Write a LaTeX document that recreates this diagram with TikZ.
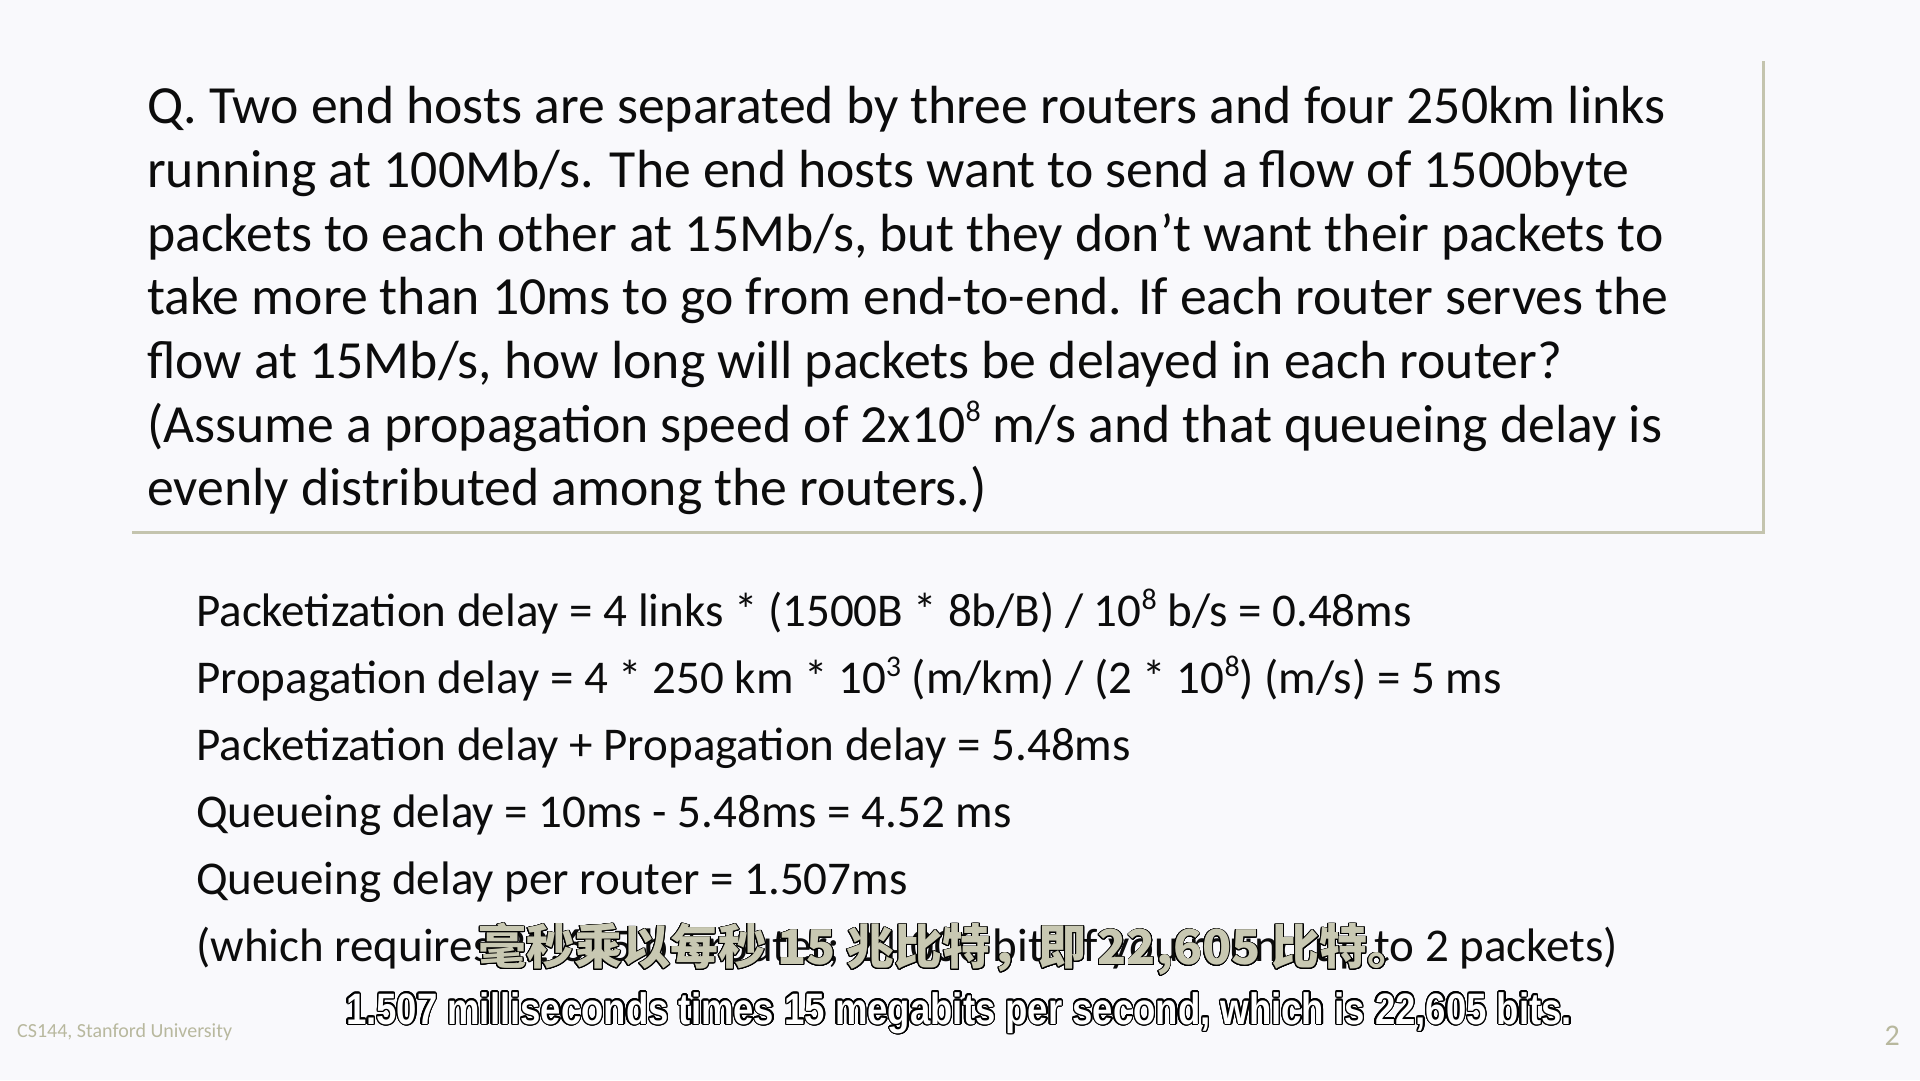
\documentclass[tikz,border=0pt]{standalone}
\usepackage{fontspec}
\usepackage{contour}
\setmainfont{Carlito}
\newfontfamily\cjkfont{Noto Sans CJK SC}
\newfontfamily\subfont[FakeStretch=0.83]{Liberation Sans}
\definecolor{bg}{RGB}{249,249,252}
\definecolor{ink}{RGB}{12,12,12}
\definecolor{shade}{RGB}{196,196,174}
\definecolor{foot}{RGB}{184,184,158}
\definecolor{subfill}{RGB}{200,200,178}
\contournumber{24}
\tikzset{
  qline/.style={anchor=base west, inner sep=0pt, text=ink, font=\fontsize{53.7}{60}\selectfont},
  aline/.style={anchor=base west, inner sep=0pt, text=ink, font=\fontsize{47}{54}\selectfont},
  footer/.style={inner sep=0pt, text=foot},
  boxshadow/.style={draw=shade, line width=3pt},
  zhsub/.style={inner sep=0pt, font=\cjkfont\bfseries\fontsize{48}{52}\selectfont},
  ensub/.style={inner sep=0pt, anchor=base, font=\subfont\bfseries\fontsize{44}{48}\selectfont}
}
\newcommand{\sups}[1]{\raisebox{0.38em}{\fontsize{30}{30}\selectfont #1}}
\begin{document}
\begin{tikzpicture}[x=1pt,y=1pt]
\fill[bg] (0,0) rectangle (1920,1080);
\useasboundingbox (0,0) rectangle (1920,1080);
% question box shadow
\coordinate (sbl) at (132,547);
\coordinate (sbr) at (1763,547);
\coordinate (str) at (1763,1019);
\draw[boxshadow] (sbl) -- (sbr) -- (str);
% question text
\node[qline] (q1) at (147,956.3) {Q. Two end hosts are separated by three routers and four 250km links};
\node[qline] (q2) at (147,892.6) {running at 100Mb/s. The end hosts want to send a flow of 1500byte};
\node[qline] (q3) at (147,828.9) {packets to each other at 15Mb/s, but they don’t want their packets to};
\node[qline] (q4) at (147,765.2) {take more than 10ms to go from end-to-end. If each router serves the};
\node[qline] (q5) at (147,701.5) {flow at 15Mb/s, how long will packets be delayed in each router?};
\node[qline] (q6) at (147,637.8) {(Assume a propagation speed of 2x10\sups{8} m/s and that queueing delay is};
\node[qline] (q7) at (147,574.1) {evenly distributed among the routers.)};
% answer text
\node[aline] (a1) at (196,453) {Packetization delay = 4 links * (1500B * 8b/B) / 10\sups{8} b/s = 0.48ms};
\node[aline] (a2) at (196,386.1) {Propagation delay = 4 * 250 km * 10\sups{3} (m/km) / (2 * 10\sups{8}) (m/s) = 5 ms};
\node[aline] (a3) at (196,319.2) {Packetization delay + Propagation delay = 5.48ms};
\node[aline] (a4) at (196,252.3) {Queueing delay = 10ms - 5.48ms = 4.52 ms};
\node[aline] (a5) at (196,185.4) {Queueing delay per router = 1.507ms};
\node[aline] (a6) at (196,118.5) {(which requires 22,605 b / router; 24,000 bits if you round up to 2 packets)};
% footer
\node[footer, anchor=base west, font=\fontsize{20}{22}\selectfont] (ft) at (17,43) {CS144, Stanford University};
\node[footer, anchor=base east, font=\fontsize{30}{30}\selectfont] (pg) at (1900,35) {2};
% subtitles
\contourlength{0.8pt}
\node[zhsub] (zh) at (947,130) {\contour{black}{\textcolor{subfill}{毫秒乘以每秒 15 兆比特，即 22,605 比特。}}};
\contourlength{1.4pt}
\node[ensub] (en) at (959,56) {\contour{black}{\textcolor{white}{1.507 milliseconds times 15 megabits per second, which is 22,605 bits.}}};
\end{tikzpicture}
\end{document}
